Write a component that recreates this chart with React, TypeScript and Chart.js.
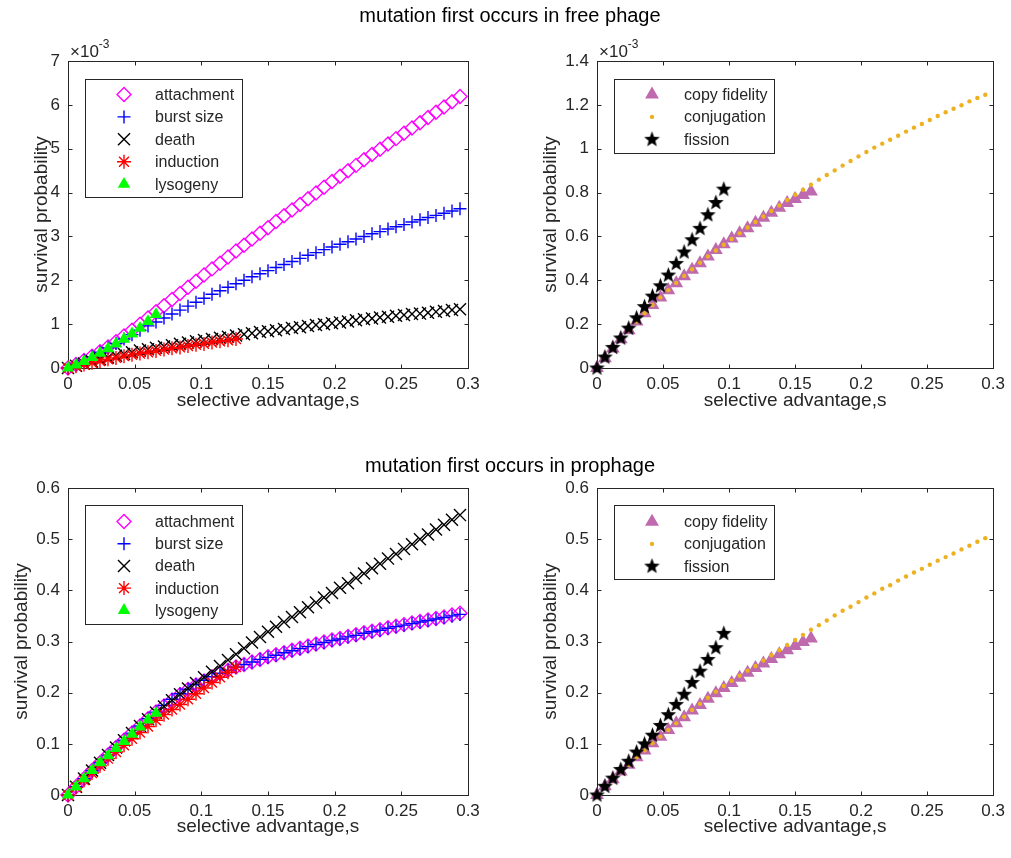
import React, { useEffect, useRef } from 'react';
import { Chart, registerables } from 'chart.js';
import { drawPoint } from 'chart.js/helpers';

Chart.register(...registerables);

const FONT = '"Liberation Sans", Arial, Helvetica, sans-serif';
const TEXT = '#262626';

// ---------- data ----------
const sValues = [0, 0.006, 0.012, 0.018, 0.024, 0.03, 0.036, 0.042, 0.048, 0.054, 0.06, 0.066, 0.072, 0.078, 0.084, 0.09, 0.096, 0.102, 0.108, 0.114, 0.12, 0.126, 0.132, 0.138, 0.144, 0.15, 0.156, 0.162, 0.168, 0.174, 0.18, 0.186, 0.192, 0.198, 0.204, 0.21, 0.216, 0.222, 0.228, 0.234, 0.24, 0.246, 0.252, 0.258, 0.264, 0.27, 0.276, 0.282, 0.288, 0.294];

// free phage (values in units of 1e-3)
const freeAttachment = [0, 0.08, 0.17, 0.27, 0.37, 0.48, 0.60, 0.73, 0.86, 1.00, 1.14, 1.28, 1.42, 1.56, 1.70, 1.84, 1.98, 2.12, 2.26, 2.39, 2.53, 2.67, 2.80, 2.94, 3.07, 3.20, 3.34, 3.47, 3.60, 3.73, 3.86, 3.99, 4.12, 4.25, 4.37, 4.50, 4.62, 4.75, 4.87, 4.99, 5.11, 5.23, 5.35, 5.47, 5.59, 5.71, 5.83, 5.95, 6.07, 6.19];
const freeBurstSize = [0, 0.08, 0.17, 0.26, 0.36, 0.46, 0.56, 0.66, 0.76, 0.86, 0.96, 1.05, 1.14, 1.23, 1.32, 1.41, 1.50, 1.59, 1.68, 1.76, 1.84, 1.92, 2.00, 2.08, 2.15, 2.22, 2.29, 2.36, 2.43, 2.50, 2.57, 2.63, 2.70, 2.76, 2.82, 2.88, 2.94, 3.00, 3.06, 3.11, 3.17, 3.22, 3.27, 3.33, 3.38, 3.43, 3.48, 3.53, 3.58, 3.63];
const freeDeath = [0, 0.05, 0.10, 0.15, 0.20, 0.24, 0.28, 0.32, 0.36, 0.40, 0.43, 0.46, 0.49, 0.52, 0.55, 0.58, 0.61, 0.64, 0.66, 0.69, 0.71, 0.74, 0.77, 0.79, 0.82, 0.84, 0.86, 0.89, 0.91, 0.93, 0.96, 0.98, 1.00, 1.02, 1.04, 1.06, 1.09, 1.11, 1.13, 1.15, 1.17, 1.19, 1.21, 1.23, 1.24, 1.26, 1.28, 1.30, 1.32, 1.34];
const freeInduction = [0, 0.04, 0.08, 0.12, 0.16, 0.20, 0.23, 0.27, 0.30, 0.33, 0.36, 0.39, 0.42, 0.45, 0.47, 0.50, 0.53, 0.55, 0.58, 0.61, 0.63, 0.66];
const freeLysogeny = [0, 0.07, 0.15, 0.24, 0.34, 0.44, 0.55, 0.66, 0.78, 0.91, 1.06, 1.22];
const freeCopyFidelity = [0, 0.045, 0.089, 0.131, 0.172, 0.212, 0.250, 0.287, 0.322, 0.355, 0.387, 0.418, 0.448, 0.478, 0.508, 0.538, 0.564, 0.590, 0.614, 0.637, 0.662, 0.685, 0.708, 0.731, 0.752, 0.771, 0.789, 0.805];
const freeConjugation = [0, 0.045, 0.089, 0.131, 0.172, 0.212, 0.250, 0.287, 0.322, 0.355, 0.388, 0.420, 0.450, 0.480, 0.509, 0.536, 0.562, 0.588, 0.614, 0.641, 0.666, 0.691, 0.716, 0.741, 0.766, 0.790, 0.813, 0.836, 0.859, 0.880, 0.901, 0.923, 0.944, 0.965, 0.985, 1.005, 1.023, 1.041, 1.059, 1.078, 1.096, 1.113, 1.131, 1.149, 1.166, 1.182, 1.198, 1.216, 1.231, 1.246];
const freeFission = [0, 0.050, 0.094, 0.137, 0.182, 0.229, 0.280, 0.328, 0.375, 0.424, 0.477, 0.529, 0.585, 0.637, 0.699, 0.755, 0.816];

// prophage
const proAttachment = [0, 0.016, 0.032, 0.048, 0.063, 0.078, 0.093, 0.107, 0.121, 0.135, 0.149, 0.162, 0.174, 0.185, 0.196, 0.206, 0.215, 0.223, 0.231, 0.238, 0.244, 0.250, 0.255, 0.260, 0.265, 0.270, 0.274, 0.278, 0.283, 0.287, 0.291, 0.295, 0.299, 0.303, 0.306, 0.310, 0.313, 0.317, 0.320, 0.323, 0.327, 0.330, 0.333, 0.336, 0.339, 0.342, 0.345, 0.348, 0.352, 0.355];
const proBurstSize = [0, 0.016, 0.032, 0.048, 0.063, 0.078, 0.093, 0.107, 0.121, 0.135, 0.149, 0.162, 0.175, 0.187, 0.198, 0.207, 0.216, 0.224, 0.231, 0.238, 0.244, 0.250, 0.255, 0.260, 0.265, 0.269, 0.273, 0.278, 0.282, 0.286, 0.290, 0.294, 0.298, 0.302, 0.305, 0.309, 0.312, 0.316, 0.319, 0.322, 0.326, 0.329, 0.332, 0.335, 0.338, 0.341, 0.344, 0.347, 0.350, 0.353];
const proDeath = [0, 0.016, 0.032, 0.048, 0.063, 0.078, 0.093, 0.107, 0.121, 0.135, 0.148, 0.161, 0.173, 0.185, 0.197, 0.208, 0.219, 0.230, 0.241, 0.252, 0.264, 0.275, 0.287, 0.298, 0.309, 0.319, 0.329, 0.338, 0.348, 0.357, 0.367, 0.376, 0.386, 0.395, 0.405, 0.414, 0.424, 0.433, 0.443, 0.452, 0.462, 0.471, 0.481, 0.490, 0.500, 0.509, 0.519, 0.528, 0.538, 0.547];
const proInduction = [0, 0.015, 0.029, 0.043, 0.057, 0.071, 0.084, 0.097, 0.110, 0.122, 0.134, 0.146, 0.157, 0.167, 0.177, 0.187, 0.198, 0.209, 0.220, 0.230, 0.240, 0.250];
const proLysogeny = [0, 0.016, 0.032, 0.048, 0.063, 0.077, 0.091, 0.105, 0.119, 0.133, 0.147, 0.160];
const proCopyFidelity = [0, 0.017, 0.031, 0.046, 0.059, 0.074, 0.087, 0.101, 0.114, 0.127, 0.140, 0.152, 0.165, 0.176, 0.188, 0.199, 0.209, 0.219, 0.229, 0.239, 0.248, 0.257, 0.266, 0.275, 0.283, 0.291, 0.299, 0.306];
const proConjugation = [0, 0.017, 0.031, 0.046, 0.059, 0.074, 0.087, 0.101, 0.114, 0.127, 0.140, 0.153, 0.166, 0.178, 0.190, 0.202, 0.213, 0.223, 0.233, 0.243, 0.252, 0.263, 0.273, 0.283, 0.293, 0.303, 0.313, 0.323, 0.332, 0.341, 0.351, 0.360, 0.368, 0.377, 0.386, 0.394, 0.403, 0.410, 0.419, 0.427, 0.435, 0.442, 0.450, 0.458, 0.465, 0.472, 0.480, 0.487, 0.495, 0.502];
const proFission = [0, 0.017, 0.033, 0.050, 0.066, 0.084, 0.100, 0.117, 0.136, 0.157, 0.177, 0.197, 0.220, 0.242, 0.265, 0.288, 0.316];

// ticks
const xTickValues = [0, 0.05, 0.1, 0.15, 0.2, 0.25, 0.3];
const xTickLabels = ['0', '0.05', '0.1', '0.15', '0.2', '0.25', '0.3'];
const yTickValuesFreeA = [0, 1, 2, 3, 4, 5, 6, 7];
const yTickLabelsFreeA = ['0', '1', '2', '3', '4', '5', '6', '7'];
const yTickValuesFreeB = [0, 0.2, 0.4, 0.6, 0.8, 1, 1.2, 1.4];
const yTickLabelsFreeB = ['0', '0.2', '0.4', '0.6', '0.8', '1', '1.2', '1.4'];
const yTickValuesPro = [0, 0.1, 0.2, 0.3, 0.4, 0.5, 0.6];
const yTickLabelsPro = ['0', '0.1', '0.2', '0.3', '0.4', '0.5', '0.6'];

const titleFree = 'mutation first occurs in free phage';
const titlePro = 'mutation first occurs in prophage';
const xTitle = 'selective advantage,s';
const yTitle = 'survival probability';

// ---------- helpers ----------
function makePentagram(): HTMLCanvasElement {
  const c = document.createElement('canvas');
  c.width = 17;
  c.height = 17;
  const g = c.getContext('2d') as CanvasRenderingContext2D;
  const cx = 8.5, cy = 8.8, R = 8.2, r = 3.5;
  g.beginPath();
  for (let k = 0; k < 10; k++) {
    const ang = -Math.PI / 2 + (k * Math.PI) / 5;
    const rad = k % 2 === 0 ? R : r;
    const px = cx + rad * Math.cos(ang);
    const py = cy + rad * Math.sin(ang);
    if (k === 0) g.moveTo(px, py);
    else g.lineTo(px, py);
  }
  g.closePath();
  g.fillStyle = '#000';
  g.fill();
  return c;
}

const decorPlugin: any = {
  id: 'panelDecor',
  beforeDatasetsDraw(chart: any, _args: any, opts: any) {
    const { ctx, chartArea: a, scales } = chart;
    ctx.save();
    ctx.strokeStyle = TEXT;
    ctx.lineWidth = 1;
    const L = Math.round(a.left) + 0.5, R = Math.round(a.right) + 0.5;
    const T = Math.round(a.top) + 0.5, B = Math.round(a.bottom) + 0.5;
    ctx.strokeRect(L, T, R - L, B - T);
    const tl = 4;
    ctx.beginPath();
    scales.x.ticks.forEach((t: any) => {
      const px = Math.round(scales.x.getPixelForValue(t.value)) + 0.5;
      ctx.moveTo(px, B); ctx.lineTo(px, B - tl);
      ctx.moveTo(px, T); ctx.lineTo(px, T + tl);
    });
    scales.y.ticks.forEach((t: any) => {
      const py = Math.round(scales.y.getPixelForValue(t.value)) + 0.5;
      ctx.moveTo(L, py); ctx.lineTo(L + tl, py);
      ctx.moveTo(R, py); ctx.lineTo(R - tl, py);
    });
    ctx.stroke();

    ctx.fillStyle = TEXT;
    ctx.font = `19px ${FONT}`;
    ctx.textAlign = 'center';
    ctx.textBaseline = 'middle';
    ctx.fillText(opts.xTitle, (a.left + a.right) / 2, opts.xTitleY);
    ctx.save();
    ctx.translate(opts.yTitleX, (a.top + a.bottom) / 2);
    ctx.rotate(-Math.PI / 2);
    ctx.fillText(opts.yTitle, 0, 0);
    ctx.restore();

    if (opts.exponent) {
      ctx.textAlign = 'left';
      ctx.textBaseline = 'alphabetic';
      ctx.font = `17px ${FONT}`;
      const base = a.left + 2;
      ctx.fillText('\u00d710', base, a.top - 4);
      const w = ctx.measureText('\u00d710').width;
      ctx.font = `12px ${FONT}`;
      ctx.fillText(opts.exponent, base + w, a.top - 13);
    }
    ctx.restore();
  },
  afterDraw(chart: any, _args: any, opts: any) {
    const lg = opts.legend;
    if (!lg) return;
    const ctx = chart.ctx;
    ctx.save();
    ctx.fillStyle = '#ffffff';
    ctx.fillRect(lg.x, lg.y, lg.w, lg.h);
    ctx.strokeStyle = TEXT;
    ctx.lineWidth = 1;
    ctx.strokeRect(lg.x + 0.5, lg.y + 0.5, lg.w, lg.h);
    chart.data.datasets.forEach((ds: any, i: number) => {
      const y = lg.y0 + i * lg.dy;
      ctx.fillStyle = ds.pointBackgroundColor;
      ctx.strokeStyle = ds.pointBorderColor;
      ctx.lineWidth = ds.pointBorderWidth;
      drawPoint(ctx, {
        pointStyle: ds.pointStyle,
        rotation: 0,
        radius: ds.pointRadius,
        borderWidth: ds.pointBorderWidth,
      } as any, lg.markerX, y);
      ctx.fillStyle = TEXT;
      ctx.font = `16px ${FONT}`;
      ctx.textAlign = 'left';
      ctx.textBaseline = 'middle';
      ctx.fillText(ds.label, lg.textX, y + 1);
    });
    ctx.restore();
  },
};

type SeriesSpec = {
  label: string;
  ys: number[];
  pointStyle: any;
  radius: number;
  borderWidth: number;
  borderColor: string;
  fill: string;
  order: number;
};

function makeDataset(s: SeriesSpec) {
  return {
    label: s.label,
    data: s.ys.map((y, i) => ({ x: sValues[i], y })),
    showLine: false,
    pointStyle: s.pointStyle,
    pointRadius: s.radius,
    pointHoverRadius: s.radius,
    pointBorderWidth: s.borderWidth,
    pointBorderColor: s.borderColor,
    pointBackgroundColor: s.fill,
    order: s.order,
    clip: false,
  };
}

function buildConfig(p: any) {
  return {
    type: 'scatter',
    data: { datasets: p.series.map(makeDataset) },
    options: {
      responsive: false,
      animation: false,
      events: [],
      layout: { padding: p.padding },
      plugins: {
        legend: { display: false },
        tooltip: { enabled: false },
        title: { display: false },
        panelDecor: {
          xTitle,
          yTitle,
          xTitleY: p.xTitleY,
          yTitleX: p.yTitleX,
          exponent: p.exponent,
          legend: p.legend,
        },
      },
      scales: {
        x: {
          type: 'linear',
          min: 0,
          max: 0.3,
          afterBuildTicks: (sc: any) => { sc.ticks = xTickValues.map((v) => ({ value: v })); },
          afterFit: (sc: any) => { sc.height = 30; },
          ticks: {
            autoSkip: false,
            maxRotation: 0,
            padding: 6,
            color: TEXT,
            font: { family: FONT, size: 17 },
            callback: (_v: any, i: number) => xTickLabels[i],
          },
          grid: { display: false, drawTicks: false },
          border: { display: false },
        },
        y: {
          type: 'linear',
          min: p.yMin,
          max: p.yMax,
          afterBuildTicks: (sc: any) => { sc.ticks = p.yTickValues.map((v: number) => ({ value: v })); },
          afterFit: (sc: any) => { sc.width = 40; },
          ticks: {
            autoSkip: false,
            padding: 8,
            color: TEXT,
            font: { family: FONT, size: 17 },
            callback: (_v: any, i: number) => p.yTickLabels[i],
          },
          grid: { display: false, drawTicks: false },
          border: { display: false },
        },
      },
    },
    plugins: [decorPlugin],
  };
}

export default function App() {
  const r1 = useRef<HTMLCanvasElement>(null);
  const r2 = useRef<HTMLCanvasElement>(null);
  const r3 = useRef<HTMLCanvasElement>(null);
  const r4 = useRef<HTMLCanvasElement>(null);

  useEffect(() => {
    const star = makePentagram();
    const magenta = '#FF00FF', blue = '#0000FF', black = '#000000', red = '#FF0000', green = '#00FF00';
    const mauve = '#BF6AAE', orange = '#EDB120';

    const phageSeries = (att: number[], bur: number[], dea: number[], ind: number[], lys: number[]): SeriesSpec[] => [
      { label: 'attachment', ys: att, pointStyle: 'rectRot', radius: 7, borderWidth: 1.4, borderColor: magenta, fill: 'rgba(0,0,0,0)', order: 5 },
      { label: 'burst size', ys: bur, pointStyle: 'cross', radius: 6.5, borderWidth: 1.4, borderColor: blue, fill: 'rgba(0,0,0,0)', order: 4 },
      { label: 'death', ys: dea, pointStyle: 'crossRot', radius: 8.5, borderWidth: 1.4, borderColor: black, fill: 'rgba(0,0,0,0)', order: 3 },
      { label: 'induction', ys: ind, pointStyle: 'star', radius: 7, borderWidth: 1.4, borderColor: red, fill: 'rgba(0,0,0,0)', order: 2 },
      { label: 'lysogeny', ys: lys, pointStyle: 'triangle', radius: 7.2, borderWidth: 0, borderColor: green, fill: green, order: 1 },
    ];
    const bactSeries = (cf: number[], cj: number[], fi: number[]): SeriesSpec[] => [
      { label: 'copy fidelity', ys: cf, pointStyle: 'triangle', radius: 8, borderWidth: 0, borderColor: mauve, fill: mauve, order: 3 },
      { label: 'conjugation', ys: cj, pointStyle: 'circle', radius: 2.2, borderWidth: 0, borderColor: orange, fill: orange, order: 2 },
      { label: 'fission', ys: fi, pointStyle: star, radius: 8, borderWidth: 0, borderColor: black, fill: black, order: 1 },
    ];

    const specs = [
      {
        ref: r1,
        series: phageSeries(freeAttachment, freeBurstSize, freeDeath, freeInduction, freeLysogeny),
        padding: { left: 28, top: 61, right: 543, bottom: 460 },
        yMin: 0, yMax: 7, yTickValues: yTickValuesFreeA, yTickLabels: yTickLabelsFreeA,
        xTitleY: 401, yTitleX: 42, exponent: '-3',
        legend: { x: 85, y: 79, w: 157, h: 118, y0: 94.5, dy: 22.4, markerX: 124, textX: 155 },
      },
      {
        ref: r2,
        series: bactSeries(freeCopyFidelity, freeConjugation, freeFission),
        padding: { left: 557, top: 61, right: 14, bottom: 460 },
        yMin: 0, yMax: 1.4, yTickValues: yTickValuesFreeB, yTickLabels: yTickLabelsFreeB,
        xTitleY: 401, yTitleX: 551, exponent: '-3',
        legend: { x: 614, y: 79, w: 160, h: 74, y0: 94.5, dy: 22.4, markerX: 652, textX: 684 },
      },
      {
        ref: r3,
        series: phageSeries(proAttachment, proBurstSize, proDeath, proInduction, proLysogeny),
        padding: { left: 28, top: 488, right: 543, bottom: 33 },
        yMin: 0, yMax: 0.6, yTickValues: yTickValuesPro, yTickLabels: yTickLabelsPro,
        xTitleY: 827, yTitleX: 22, exponent: '',
        legend: { x: 85, y: 505, w: 157, h: 119, y0: 521.5, dy: 22.2, markerX: 124, textX: 155 },
      },
      {
        ref: r4,
        series: bactSeries(proCopyFidelity, proConjugation, proFission),
        padding: { left: 557, top: 488, right: 14, bottom: 33 },
        yMin: 0, yMax: 0.6, yTickValues: yTickValuesPro, yTickLabels: yTickLabelsPro,
        xTitleY: 827, yTitleX: 551, exponent: '',
        legend: { x: 614, y: 505, w: 160, h: 74, y0: 521.7, dy: 22.2, markerX: 652, textX: 684 },
      },
    ];

    const charts = specs.map((s) => new Chart(s.ref.current as HTMLCanvasElement, buildConfig(s) as any));
    return () => { charts.forEach((c) => c.destroy()); };
  }, []);

  const canvasStyle: React.CSSProperties = { position: 'absolute', left: 0, top: 0, width: 1011, height: 858 };
  const titleStyle = (top: number): React.CSSProperties => ({
    position: 'absolute', left: 0, top, width: 1020, textAlign: 'center',
    fontFamily: FONT, fontSize: 20, lineHeight: '22px', color: '#000', whiteSpace: 'nowrap',
  });

  return (
    <div style={{ position: 'absolute', left: 0, top: 0, width: 1011, height: 858, background: '#fff', overflow: 'hidden' }}>
      <canvas ref={r1} width={1011} height={858} style={canvasStyle} />
      <canvas ref={r2} width={1011} height={858} style={canvasStyle} />
      <canvas ref={r3} width={1011} height={858} style={canvasStyle} />
      <canvas ref={r4} width={1011} height={858} style={canvasStyle} />
      <div style={titleStyle(4)}>{titleFree}</div>
      <div style={titleStyle(454)}>{titlePro}</div>
    </div>
  );
}
